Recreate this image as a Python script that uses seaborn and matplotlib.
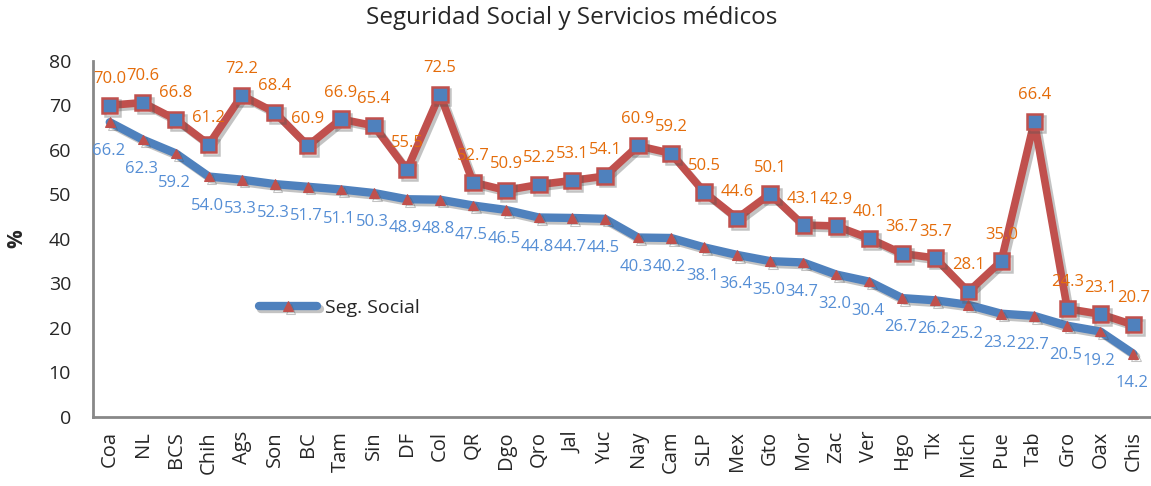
import pandas as pd
import matplotlib.pyplot as plt
import matplotlib.patheffects as pe
import seaborn as sns

# Data
estados = ['Coa', 'NL', 'BCS', 'Chih', 'Ags', 'Son', 'BC', 'Tam', 'Sin', 'DF', 'Col', 'QR',
           'Dgo', 'Qro', 'Jal', 'Yuc', 'Nay', 'Cam', 'SLP', 'Mex', 'Gto', 'Mor', 'Zac', 'Ver',
           'Hgo', 'Tlx', 'Mich', 'Pue', 'Tab', 'Gro', 'Oax', 'Chis']
servicios_medicos = [70.0, 70.6, 66.8, 61.2, 72.2, 68.4, 60.9, 66.9, 65.4, 55.5, 72.5, 52.7,
                     50.9, 52.2, 53.1, 54.1, 60.9, 59.2, 50.5, 44.6, 50.1, 43.1, 42.9, 40.1,
                     36.7, 35.7, 28.1, 35.0, 66.4, 24.3, 23.1, 20.7]
seg_social = [66.2, 62.3, 59.2, 54.0, 53.3, 52.3, 51.7, 51.1, 50.3, 48.9, 48.8, 47.5,
              46.5, 44.8, 44.7, 44.5, 40.3, 40.2, 38.1, 36.4, 35.0, 34.7, 32.0, 30.4,
              26.7, 26.2, 25.2, 23.2, 22.7, 20.5, 19.2, 14.2]

df = pd.DataFrame({'Estado': estados, 'Servicios': servicios_medicos, 'Social': seg_social})

sns.set_style('white')
plt.rcParams['font.family'] = ['Open Sans', 'DejaVu Sans']

fig = plt.figure(figsize=(11.51, 4.86), dpi=100)
ax = fig.add_axes([0.081, 0.142, 0.918, 0.733])

blue = '#4F81BD'
red = '#C0504D'
shadow = [pe.SimpleLineShadow(offset=(2, -2), shadow_color='#555555', alpha=0.35), pe.Normal()]

sns.lineplot(data=df, x='Estado', y='Social', sort=False, ax=ax, color=blue, linewidth=6,
             marker='^', markersize=7, markerfacecolor=red, markeredgecolor=red,
             label='Seg. Social', path_effects=shadow)
sns.lineplot(data=df, x='Estado', y='Servicios', sort=False, ax=ax, color=red, linewidth=5.5,
             marker='s', markersize=11, markerfacecolor=blue, markeredgecolor=red,
             markeredgewidth=1.8, label='_nolegend_', path_effects=shadow)

for i, v in enumerate(servicios_medicos):
    ax.annotate(f'{v:.1f}', (i, v), xytext=(0, 19), textcoords='offset points',
                ha='center', va='center', fontsize=12, color='#E46C0A')
for i, v in enumerate(seg_social):
    ax.annotate(f'{v:.1f}', (i, v), xytext=(-1, -21), textcoords='offset points',
                ha='center', va='center', fontsize=12, color='#558ED5')

ax.set_xlim(-0.5, len(estados) - 0.5)
ax.set_ylim(0, 80)
ax.set_yticks(range(0, 81, 10))
ax.set_xlabel('')
ax.set_ylabel('%', fontsize=15, fontweight='bold', rotation=90)
ax.yaxis.set_label_coords(-0.062, 0.5)
ax.tick_params(axis='y', labelsize=14, length=0, pad=16)
ax.tick_params(axis='x', labelsize=14.5, length=0, pad=10, rotation=90)
fig.text(0.497, 0.962, 'Seguridad Social y Servicios médicos', fontsize=17.5,
         ha='center', va='center')

for s in ['top', 'right']:
    ax.spines[s].set_visible(False)
for s in ['left', 'bottom']:
    ax.spines[s].set_color('#888888')
    ax.spines[s].set_linewidth(2)

handles, labels = ax.get_legend_handles_labels()
ax.legend(handles[:1], labels[:1], loc='center left', bbox_to_anchor=(0.14, 0.306),
          frameon=False, fontsize=14, handlelength=3, handletextpad=0.4)

fig.savefig('out.png', dpi=100)
